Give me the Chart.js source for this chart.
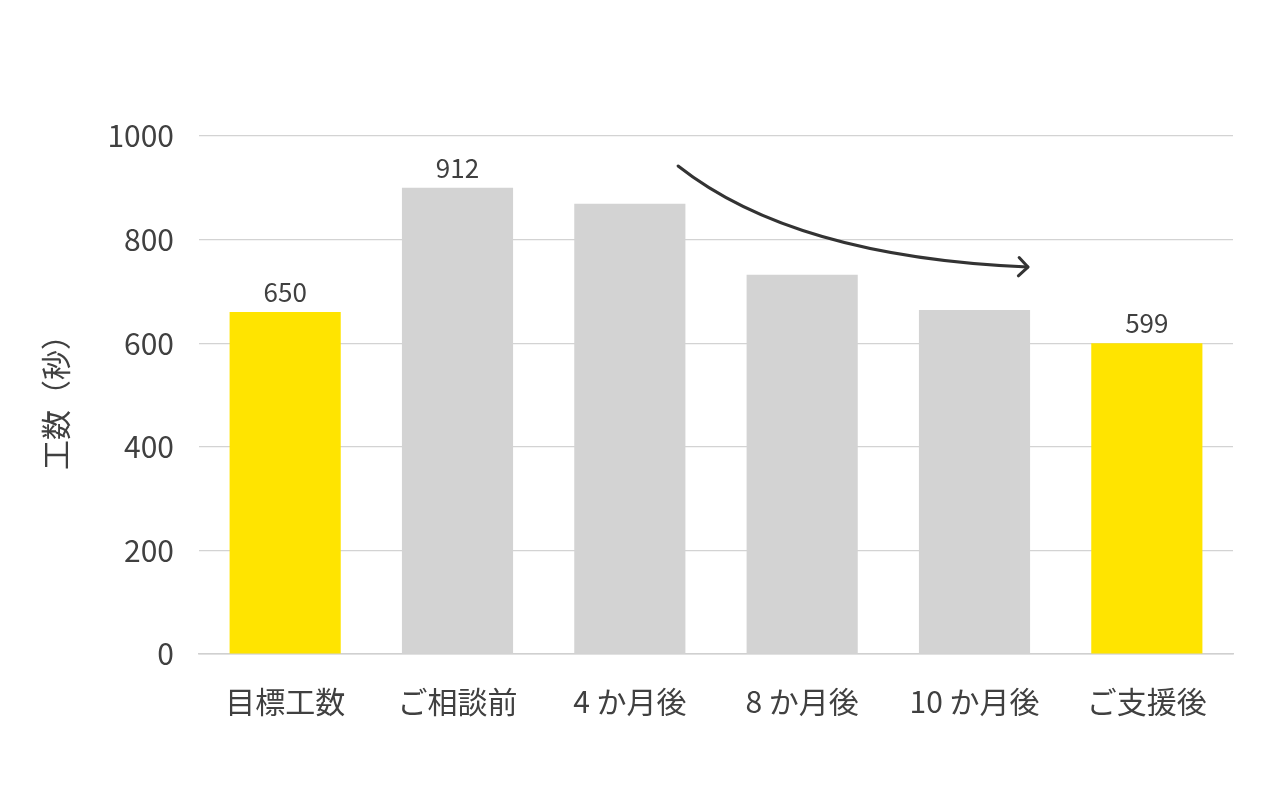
<!DOCTYPE html>
<html>
<head>
<meta charset="utf-8">
<script src="https://cdn.jsdelivr.net/npm/chart.js@4/dist/chart.umd.min.js"></script>
<style>
	html, body { margin: 0; padding: 0; background: #ffffff; }
	#wrap { width: 1280px; height: 789px; }
</style>
</head>
<body>
<div id="wrap"><canvas id="chart"></canvas></div>
<script>
var categories = ["目標工数", "ご相談前", "4 か月後", "8 か月後", "10 か月後", "ご支援後"];
var barValues = [660, 900, 869, 732, 664, 600];
var valueLabels = ["650", "912", "", "", "", "599"];
var barColors = ["#FFE400", "#D3D3D3", "#D3D3D3", "#D3D3D3", "#D3D3D3", "#FFE400"];
var yTicks = [0, 200, 400, 600, 800, 1000];
var yTitle = "工数（秒）";
// arrow in data units: [category index, value]
var arrowFrom = [2.28, 942];
var arrowCtrl = [2.95, 766];
var arrowTo = [4.31, 747];

var fontFamily = "'Noto Sans CJK JP', 'Noto Sans', sans-serif";
var textColor = "#404040";

var valueLabelPlugin = {
	id: "valueLabels",
	afterDatasetsDraw: function(chart) {
		var ctx = chart.ctx;
		var meta = chart.getDatasetMeta(0);
		ctx.save();
		ctx.font = "26px " + fontFamily;
		ctx.fillStyle = textColor;
		ctx.textAlign = "center";
		ctx.textBaseline = "alphabetic";
		meta.data.forEach(function(bar, i) {
			if (valueLabels[i] !== "") {
				ctx.fillText(valueLabels[i], bar.x, bar.y - 10);
			}
		});
		ctx.restore();
	}
};

var arrowPlugin = {
	id: "trendArrow",
	afterDatasetsDraw: function(chart) {
		var xs = chart.scales.x;
		var ys = chart.scales.y;
		var p0 = [xs.getPixelForValue(arrowFrom[0]), ys.getPixelForValue(arrowFrom[1])];
		var c = [xs.getPixelForValue(arrowCtrl[0]), ys.getPixelForValue(arrowCtrl[1])];
		var p2 = [xs.getPixelForValue(arrowTo[0]), ys.getPixelForValue(arrowTo[1])];
		var ctx = chart.ctx;
		ctx.save();
		ctx.strokeStyle = "#333333";
		ctx.lineWidth = 3;
		ctx.lineCap = "round";
		ctx.lineJoin = "round";
		ctx.beginPath();
		ctx.moveTo(p0[0], p0[1]);
		ctx.quadraticCurveTo(c[0], c[1], p2[0], p2[1]);
		ctx.stroke();
		var angle = Math.atan2(p2[1] - c[1], p2[0] - c[0]);
		var len = 13;
		var spread = Math.PI / 4;
		ctx.beginPath();
		ctx.moveTo(p2[0] - len * Math.cos(angle - spread), p2[1] - len * Math.sin(angle - spread));
		ctx.lineTo(p2[0], p2[1]);
		ctx.lineTo(p2[0] - len * Math.cos(angle + spread), p2[1] - len * Math.sin(angle + spread));
		ctx.stroke();
		ctx.restore();
	}
};

var canvas = document.getElementById("chart");
var barChart = new Chart(canvas, {
	type: "bar",
	data: {
		labels: categories,
		datasets: [{
			data: barValues,
			backgroundColor: barColors,
			borderWidth: 0,
			barPercentage: 0.645,
			categoryPercentage: 1.0
		}]
	},
	options: {
		responsive: true,
		maintainAspectRatio: false,
		animation: false,
		layout: { padding: { top: 136, right: 47, bottom: 0, left: 0 } },
		plugins: {
			legend: { display: false },
			tooltip: { enabled: false }
		},
		scales: {
			x: {
				grid: { display: false, drawTicks: false },
				border: { display: true, color: "#D0D0D0", width: 1.5 },
				ticks: {
					color: textColor,
					font: { family: fontFamily, size: 30 },
					padding: 30,
					maxRotation: 0
				},
				afterFit: function(scale) { scale.height = 135; }
			},
			y: {
				min: 0,
				max: 1000,
				afterBuildTicks: function(scale) {
					scale.ticks = yTicks.map(function(v) { return { value: v }; });
				},
				grid: { color: "#D3D3D3", lineWidth: 1.2, drawTicks: false },
				border: { display: false },
				ticks: {
					color: textColor,
					font: { family: fontFamily, size: 30 },
					padding: 25,
					callback: function(value) { return String(value); }
				},
				title: {
					display: true,
					text: yTitle,
					color: textColor,
					font: { family: fontFamily, size: 30 },
					padding: { top: 38, bottom: 0 }
				},
				afterFit: function(scale) { scale.width = 199; }
			}
		}
	},
	plugins: [valueLabelPlugin, arrowPlugin]
});
</script>
</body>
</html>
